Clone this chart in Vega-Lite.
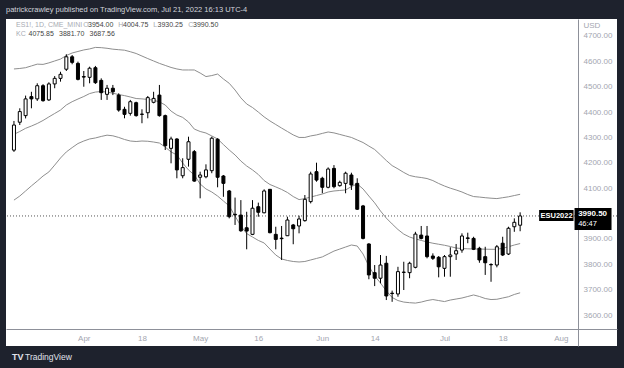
{
  "$schema": "https://vega.github.io/schema/vega-lite/v6.json",
  "width": 611,
  "height": 327,
  "autosize": {"type": "none"},
  "padding": {"left": 6, "top": 19, "right": 7, "bottom": 22},
  "background": "#1e222d",
  "config": {"view": {"fill": "white", "stroke": null}, "font": "Liberation Sans", "axis": {"labelOverlap": false, "labelFlush": false, "labelBound": false}},
  "title": {"text": "patrickcrawley published on TradingView.com, Jul 21, 2022 16:13 UTC-4", "anchor": "start", "frame": "group", "offset": 6, "fontSize": 7.5, "fontWeight": "normal", "color": "#d1d4dc", "font": "Liberation Sans"},
  "data": {"values": [
    {"i":-12,"o":4250,"h":4365,"l":4243,"c":4349,"u":4570,"m":4312.5,"lo":4053},
    {"i":-11,"o":4360,"h":4415,"l":4349,"c":4402,"u":4572,"m":4323.5,"lo":4069},
    {"i":-10,"o":4386,"h":4465,"l":4375,"c":4452,"u":4575,"m":4336,"lo":4089},
    {"i":-9,"o":4461,"h":4480,"l":4415,"c":4452,"u":4582,"m":4345,"lo":4109},
    {"i":-8,"o":4452,"h":4513.5,"l":4444,"c":4504,"u":4589,"m":4355,"lo":4128},
    {"i":-7,"o":4504,"h":4510,"l":4441,"c":4445,"u":4588,"m":4367,"lo":4148},
    {"i":-6,"o":4448,"h":4517.5,"l":4444,"c":4511,"u":4594,"m":4381,"lo":4164},
    {"i":-5,"o":4511,"h":4542,"l":4494,"c":4533,"u":4601.5,"m":4394.5,"lo":4191},
    {"i":-4,"o":4533,"h":4559,"l":4520,"c":4549,"u":4609,"m":4408,"lo":4219},
    {"i":-3,"o":4569,"h":4628,"l":4562,"c":4618,"u":4623,"m":4428,"lo":4243},
    {"i":-2,"o":4618,"h":4625,"l":4588.5,"c":4596,"u":4633,"m":4441,"lo":4260},
    {"i":-1,"o":4592,"h":4599,"l":4525,"c":4529,"u":4639,"m":4451.5,"lo":4276},
    {"i":0,"o":4540,"h":4562,"l":4500,"c":4538,"u":4645,"m":4461.5,"lo":4286},
    {"i":1,"o":4537,"h":4579,"l":4513.5,"c":4573,"u":4649,"m":4473,"lo":4294},
    {"i":2,"o":4575,"h":4582,"l":4511,"c":4516,"u":4655,"m":4479,"lo":4298},
    {"i":3,"o":4525,"h":4533,"l":4448,"c":4476.5,"u":4654,"m":4481,"lo":4304},
    {"i":4,"o":4470,"h":4507,"l":4448,"c":4494,"u":4651.5,"m":4479,"lo":4309},
    {"i":5,"o":4494,"h":4507,"l":4467,"c":4480,"u":4648,"m":4474.5,"lo":4306.5},
    {"i":6,"o":4467,"h":4474,"l":4401.5,"c":4408,"u":4646,"m":4469,"lo":4300},
    {"i":7,"o":4411,"h":4421,"l":4375.5,"c":4391,"u":4644,"m":4465,"lo":4292},
    {"i":8,"o":4395,"h":4448,"l":4386,"c":4441,"u":4638,"m":4459.5,"lo":4286},
    {"i":9,"o":4437,"h":4441,"l":4382,"c":4386,"u":4631,"m":4453.5,"lo":4284},
    {"i":10,"o":4392,"h":4411,"l":4356,"c":4391,"u":4621,"m":4452,"lo":4286},
    {"i":11,"o":4397.5,"h":4463.5,"l":4375.5,"c":4457,"u":4611,"m":4450,"lo":4285},
    {"i":12,"o":4438.5,"h":4480,"l":4434.5,"c":4454,"u":4601.5,"m":4447,"lo":4282},
    {"i":13,"o":4467,"h":4507,"l":4382,"c":4386,"u":4592,"m":4440,"lo":4278},
    {"i":14,"o":4386,"h":4390,"l":4250.5,"c":4267.5,"u":4584,"m":4428,"lo":4262},
    {"i":15,"o":4257,"h":4303,"l":4198,"c":4294,"u":4576,"m":4404,"lo":4243},
    {"i":16,"o":4294,"h":4297,"l":4139,"c":4172,"u":4570,"m":4388.5,"lo":4231},
    {"i":17,"o":4149,"h":4218,"l":4139,"c":4181,"u":4566,"m":4379,"lo":4199},
    {"i":18,"o":4214,"h":4303,"l":4185,"c":4283,"u":4566,"m":4361,"lo":4172},
    {"i":19,"o":4244,"h":4250.5,"l":4125.5,"c":4128,"u":4566,"m":4333,"lo":4152},
    {"i":20,"o":4143,"h":4165,"l":4060,"c":4152,"u":4554,"m":4323.5,"lo":4116.5},
    {"i":21,"o":4145,"h":4194,"l":4139,"c":4172,"u":4540,"m":4317.5,"lo":4097},
    {"i":22,"o":4169,"h":4303,"l":4159,"c":4297,"u":4544,"m":4306,"lo":4085},
    {"i":23,"o":4293,"h":4297,"l":4103.5,"c":4143,"u":4550,"m":4294,"lo":4069},
    {"i":24,"o":4148,"h":4152,"l":4066,"c":4119,"u":4530.5,"m":4272,"lo":4049.5},
    {"i":25,"o":4089,"h":4093,"l":3981,"c":3987.5,"u":4513.5,"m":4250.5,"lo":4030},
    {"i":26,"o":3997,"h":4063,"l":3955,"c":3995,"u":4487,"m":4231,"lo":3990},
    {"i":27,"o":3994,"h":4053,"l":3928,"c":3932,"u":4456,"m":4207,"lo":3951},
    {"i":28,"o":3944,"h":4007,"l":3859,"c":3931,"u":4432,"m":4187.5,"lo":3921},
    {"i":29,"o":3918,"h":4053,"l":3915,"c":4021,"u":4418,"m":4172,"lo":3907.5},
    {"i":30,"o":4027,"h":4043,"l":3987.5,"c":4005,"u":4400,"m":4154,"lo":3894},
    {"i":31,"o":4003,"h":4095.5,"l":4001,"c":4089,"u":4381,"m":4130,"lo":3884},
    {"i":32,"o":4095.5,"h":4096,"l":3922,"c":3924.5,"u":4365,"m":4114.5,"lo":3860},
    {"i":33,"o":3918,"h":3948,"l":3859,"c":3898,"u":4351,"m":4105,"lo":3836.5},
    {"i":34,"o":3903,"h":3951,"l":3817,"c":3901,"u":4337,"m":4095,"lo":3821},
    {"i":35,"o":3912.5,"h":3987.5,"l":3911.5,"c":3974.5,"u":4323.5,"m":4083,"lo":3815},
    {"i":36,"o":3955,"h":3959,"l":3879,"c":3940,"u":4310,"m":4067,"lo":3811},
    {"i":37,"o":3951,"h":3991.5,"l":3922,"c":3978.5,"u":4300,"m":4055,"lo":3809},
    {"i":38,"o":3972,"h":4073,"l":3968,"c":4056,"u":4300,"m":4059,"lo":3811},
    {"i":39,"o":4047,"h":4165,"l":4040,"c":4156,"u":4306,"m":4065,"lo":3817},
    {"i":40,"o":4165,"h":4200.5,"l":4125.5,"c":4132,"u":4310,"m":4071,"lo":3823},
    {"i":41,"o":4139,"h":4145,"l":4080,"c":4103.5,"u":4316,"m":4077,"lo":3829},
    {"i":42,"o":4103.5,"h":4182,"l":4099.5,"c":4175.5,"u":4321.5,"m":4085,"lo":3840.5},
    {"i":43,"o":4178,"h":4191,"l":4099.5,"c":4106,"u":4318,"m":4089,"lo":3852},
    {"i":44,"o":4110,"h":4129.5,"l":4106,"c":4123,"u":4312,"m":4091,"lo":3860},
    {"i":45,"o":4119,"h":4165,"l":4080,"c":4159,"u":4306,"m":4093,"lo":3868},
    {"i":46,"o":4152,"h":4161,"l":4093,"c":4112.5,"u":4300,"m":4106.5,"lo":3876},
    {"i":47,"o":4119,"h":4139,"l":4014,"c":4017,"u":4290,"m":4116.5,"lo":3872},
    {"i":48,"o":4030,"h":4034,"l":3898,"c":3902,"u":4280,"m":4097,"lo":3840.5},
    {"i":49,"o":3880,"h":3883,"l":3741,"c":3758,"u":4266,"m":4069,"lo":3793},
    {"i":50,"o":3767,"h":3797,"l":3714,"c":3745,"u":4252.5,"m":4042,"lo":3754},
    {"i":51,"o":3745,"h":3836.5,"l":3725,"c":3797,"u":4231,"m":4010,"lo":3726},
    {"i":52,"o":3804,"h":3833,"l":3659,"c":3675,"u":4209,"m":3982,"lo":3695},
    {"i":53,"o":3686,"h":3696,"l":3652,"c":3684.5,"u":4189,"m":3959,"lo":3669},
    {"i":54,"o":3683,"h":3790,"l":3672,"c":3771,"u":4176,"m":3937,"lo":3657},
    {"i":55,"o":3769,"h":3810,"l":3698.5,"c":3768,"u":4162,"m":3919,"lo":3651},
    {"i":56,"o":3767,"h":3810,"l":3745,"c":3804,"u":4150,"m":3907.5,"lo":3648.5},
    {"i":57,"o":3788,"h":3928,"l":3784,"c":3919,"u":4145,"m":3900,"lo":3647},
    {"i":58,"o":3915,"h":3951,"l":3898,"c":3902,"u":4142,"m":3894,"lo":3651},
    {"i":59,"o":3911.5,"h":3951,"l":3823.5,"c":3830,"u":4138,"m":3888,"lo":3657},
    {"i":60,"o":3832.5,"h":3843,"l":3817,"c":3823.5,"u":4130,"m":3883,"lo":3661},
    {"i":61,"o":3827.5,"h":3832.5,"l":3748.5,"c":3790,"u":4118.5,"m":3879,"lo":3657},
    {"i":62,"o":3784,"h":3836.5,"l":3751,"c":3830,"u":4108.5,"m":3875,"lo":3653},
    {"i":63,"o":3830,"h":3867,"l":3751,"c":3836.5,"u":4100,"m":3870,"lo":3659},
    {"i":64,"o":3840.5,"h":3880,"l":3817,"c":3853.5,"u":4093,"m":3864,"lo":3663},
    {"i":65,"o":3856,"h":3922,"l":3845.5,"c":3911.5,"u":4085,"m":3862,"lo":3667},
    {"i":66,"o":3904,"h":3924.5,"l":3883,"c":3902,"u":4075,"m":3861,"lo":3673},
    {"i":67,"o":3902,"h":3908.5,"l":3856,"c":3859,"u":4067,"m":3860,"lo":3679},
    {"i":68,"o":3863,"h":3869,"l":3806,"c":3817,"u":4065,"m":3860,"lo":3673},
    {"i":69,"o":3830,"h":3869,"l":3758,"c":3806,"u":4062.5,"m":3859.5,"lo":3665},
    {"i":70,"o":3799,"h":3804,"l":3731,"c":3798,"u":4060.5,"m":3859,"lo":3661},
    {"i":71,"o":3797,"h":3876,"l":3788,"c":3869,"u":4059,"m":3859,"lo":3662},
    {"i":72,"o":3883,"h":3908.5,"l":3832.5,"c":3836.5,"u":4062.5,"m":3863,"lo":3667},
    {"i":73,"o":3840.5,"h":3948,"l":3836.5,"c":3942,"u":4066,"m":3869,"lo":3672},
    {"i":74,"o":3948,"h":3981,"l":3928,"c":3965.5,"u":4071,"m":3876,"lo":3681},
    {"i":75,"o":3954,"h":4004.75,"l":3930.25,"c":3990.5,"u":4075.85,"m":3881.7,"lo":3687.56}
  ]},
  "layer": [
    {
      "mark": {"type": "line", "color": "#8e8e8e", "strokeWidth": 1},
      "encoding": {
        "x": {"field": "i", "type": "quantitative", "scale": {"domain": [-12.51, 90.79], "nice": false, "zero": false},
          "axis": {"values": [0, 10, 20, 30, 41, 50, 62, 72, 82], "tickCount": 30, "labelExpr": "datum.value==0?'Apr':datum.value==10?'18':datum.value==20?'May':datum.value==30?'16':datum.value==41?'Jun':datum.value==50?'14':datum.value==62?'Jul':datum.value==72?'18':'Aug'", "offset": -17, "ticks": false, "grid": false, "domainColor": "#8d9099", "labelColor": "#a3a6b0", "labelFontSize": 8, "labelPadding": 5, "title": null, "labelOverlap": false}},
        "y": {"field": "u", "type": "quantitative", "scale": {"domain": [3477.8, 4767], "nice": false, "zero": false},
          "axis": {"orient": "right", "offset": -39, "values": [3600, 3700, 3800, 3900, 4100, 4200, 4300, 4400, 4500, 4600, 4700], "tickCount": 30, "format": ".2f", "ticks": false, "grid": false, "domainColor": "#8d9099", "labelColor": "#a3a6b0", "labelFontSize": 8, "labelPadding": 5, "labelOverlap": false, "title": "USD", "titleAngle": 0, "titleAlign": "left", "titleBaseline": "middle", "titleX": 5, "titleY": 6, "titleFontSize": 8, "titleFontWeight": "normal", "titleColor": "#a3a6b0"}}
      }
    },
    {
      "mark": {"type": "line", "color": "#8e8e8e", "strokeWidth": 1},
      "encoding": {
        "x": {"field": "i", "type": "quantitative"},
        "y": {"field": "m", "type": "quantitative"}
      }
    },
    {
      "mark": {"type": "line", "color": "#8e8e8e", "strokeWidth": 1},
      "encoding": {
        "x": {"field": "i", "type": "quantitative"},
        "y": {"field": "lo", "type": "quantitative"}
      }
    },
    {
      "transform": [{"filter": "datum.i == 75"}],
      "mark": {"type": "rule", "color": "#555555", "strokeWidth": 1, "strokeDash": [1, 2]},
      "encoding": {"y": {"field": "c", "type": "quantitative"}}
    },
    {
      "mark": {"type": "rule", "color": "#000000", "strokeWidth": 1},
      "encoding": {
        "x": {"field": "i", "type": "quantitative"},
        "y": {"field": "l", "type": "quantitative"},
        "y2": {"field": "h"}
      }
    },
    {
      "mark": {"type": "bar", "width": 3, "stroke": "#000000", "strokeWidth": 1},
      "encoding": {
        "x": {"field": "i", "type": "quantitative"},
        "y": {"field": "o", "type": "quantitative"},
        "y2": {"field": "c"},
        "fill": {"condition": {"test": "datum.c >= datum.o", "value": "#ffffff"}, "value": "#000000"}
      }
    },
    {
      "transform": [{"filter": "datum.i == 75"}],
      "mark": {"type": "rect", "color": "#000000", "xOffset": 19, "x2Offset": 53.4, "yOffset": -6, "y2Offset": 5},
      "encoding": {
        "x": {"field": "i", "type": "quantitative"}, "x2": {"field": "i"},
        "y": {"field": "c", "type": "quantitative"}, "y2": {"field": "c"}
      }
    },
    {
      "transform": [{"filter": "datum.i == 75"}],
      "mark": {"type": "text", "color": "#ffffff", "dx": 36.4, "dy": 0, "fontSize": 7.5, "fontWeight": "bold", "align": "center", "baseline": "middle"},
      "encoding": {
        "x": {"field": "i", "type": "quantitative"},
        "y": {"field": "c", "type": "quantitative"},
        "text": {"value": "ESU2022"}
      }
    },
    {
      "transform": [{"filter": "datum.i == 75"}],
      "mark": {"type": "rect", "color": "#000000", "xOffset": 54.4, "x2Offset": 91.4, "yOffset": -8, "y2Offset": 14},
      "encoding": {
        "x": {"field": "i", "type": "quantitative"}, "x2": {"field": "i"},
        "y": {"field": "c", "type": "quantitative"}, "y2": {"field": "c"}
      }
    },
    {
      "transform": [{"filter": "datum.i == 75"}],
      "mark": {"type": "text", "color": "#ffffff", "dx": 58, "dy": -2, "fontSize": 8, "fontWeight": "bold", "align": "left", "baseline": "middle"},
      "encoding": {
        "x": {"field": "i", "type": "quantitative"},
        "y": {"field": "c", "type": "quantitative"},
        "text": {"field": "c", "type": "quantitative", "format": ".2f"}
      }
    },
    {
      "transform": [{"filter": "datum.i == 75"}],
      "mark": {"type": "text", "color": "#ffffff", "dx": 58, "dy": 8, "fontSize": 7.5, "align": "left", "baseline": "middle"},
      "encoding": {
        "x": {"field": "i", "type": "quantitative"},
        "y": {"field": "c", "type": "quantitative"},
        "text": {"value": "46:47"}
      }
    },
    {
      "transform": [{"filter": "datum.i == 75"}],
      "mark": {"type": "text", "color": "#a8abb3", "dx": 5, "dy": 6, "fontSize": 7, "align": "left", "baseline": "middle"},
      "encoding": {"x": {"datum": -12.51, "type": "quantitative"}, "y": {"datum": 4767, "type": "quantitative"}, "text": {"value": "ES1!, 1D, CME_MINI"}}
    },
    {
      "transform": [{"filter": "datum.i == 75"}],
      "mark": {"type": "text", "color": "#a8abb3", "dx": 72.3, "dy": 6, "fontSize": 7, "align": "left", "baseline": "middle"},
      "encoding": {"x": {"datum": -12.51, "type": "quantitative"}, "y": {"datum": 4767, "type": "quantitative"}, "text": {"value": "O"}}
    },
    {
      "transform": [{"filter": "datum.i == 75"}],
      "mark": {"type": "text", "color": "#a8abb3", "dx": 107.3, "dy": 6, "fontSize": 7, "align": "left", "baseline": "middle"},
      "encoding": {"x": {"datum": -12.51, "type": "quantitative"}, "y": {"datum": 4767, "type": "quantitative"}, "text": {"value": "H"}}
    },
    {
      "transform": [{"filter": "datum.i == 75"}],
      "mark": {"type": "text", "color": "#a8abb3", "dx": 142.3, "dy": 6, "fontSize": 7, "align": "left", "baseline": "middle"},
      "encoding": {"x": {"datum": -12.51, "type": "quantitative"}, "y": {"datum": 4767, "type": "quantitative"}, "text": {"value": "L"}}
    },
    {
      "transform": [{"filter": "datum.i == 75"}],
      "mark": {"type": "text", "color": "#a8abb3", "dx": 177.3, "dy": 6, "fontSize": 7, "align": "left", "baseline": "middle"},
      "encoding": {"x": {"datum": -12.51, "type": "quantitative"}, "y": {"datum": 4767, "type": "quantitative"}, "text": {"value": "C"}}
    },
    {
      "transform": [{"filter": "datum.i == 75"}],
      "mark": {"type": "text", "color": "#a8abb3", "dx": 5, "dy": 15.3, "fontSize": 7, "align": "left", "baseline": "middle"},
      "encoding": {"x": {"datum": -12.51, "type": "quantitative"}, "y": {"datum": 4767, "type": "quantitative"}, "text": {"value": "KC"}}
    },
    {
      "transform": [{"filter": "datum.i == 75"}],
      "mark": {"type": "text", "color": "#444444", "dx": 77, "dy": 6, "fontSize": 7, "align": "left", "baseline": "middle"},
      "encoding": {"x": {"datum": -12.51, "type": "quantitative"}, "y": {"datum": 4767, "type": "quantitative"}, "text": {"field": "o", "type": "quantitative", "format": ".2f"}}
    },
    {
      "transform": [{"filter": "datum.i == 75"}],
      "mark": {"type": "text", "color": "#444444", "dx": 112, "dy": 6, "fontSize": 7, "align": "left", "baseline": "middle"},
      "encoding": {"x": {"datum": -12.51, "type": "quantitative"}, "y": {"datum": 4767, "type": "quantitative"}, "text": {"field": "h", "type": "quantitative", "format": ".2f"}}
    },
    {
      "transform": [{"filter": "datum.i == 75"}],
      "mark": {"type": "text", "color": "#444444", "dx": 146.5, "dy": 6, "fontSize": 7, "align": "left", "baseline": "middle"},
      "encoding": {"x": {"datum": -12.51, "type": "quantitative"}, "y": {"datum": 4767, "type": "quantitative"}, "text": {"field": "l", "type": "quantitative", "format": ".2f"}}
    },
    {
      "transform": [{"filter": "datum.i == 75"}],
      "mark": {"type": "text", "color": "#444444", "dx": 182, "dy": 6, "fontSize": 7, "align": "left", "baseline": "middle"},
      "encoding": {"x": {"datum": -12.51, "type": "quantitative"}, "y": {"datum": 4767, "type": "quantitative"}, "text": {"field": "c", "type": "quantitative", "format": ".2f"}}
    },
    {
      "transform": [{"filter": "datum.i == 75"}],
      "mark": {"type": "text", "color": "#444444", "dx": 17.5, "dy": 15.3, "fontSize": 7, "align": "left", "baseline": "middle"},
      "encoding": {"x": {"datum": -12.51, "type": "quantitative"}, "y": {"datum": 4767, "type": "quantitative"}, "text": {"field": "u", "type": "quantitative", "format": ".2f"}}
    },
    {
      "transform": [{"filter": "datum.i == 75"}],
      "mark": {"type": "text", "color": "#444444", "dx": 48, "dy": 15.3, "fontSize": 7, "align": "left", "baseline": "middle"},
      "encoding": {"x": {"datum": -12.51, "type": "quantitative"}, "y": {"datum": 4767, "type": "quantitative"}, "text": {"field": "m", "type": "quantitative", "format": ".2f"}}
    },
    {
      "transform": [{"filter": "datum.i == 75"}],
      "mark": {"type": "text", "color": "#444444", "dx": 78.5, "dy": 15.3, "fontSize": 7, "align": "left", "baseline": "middle"},
      "encoding": {"x": {"datum": -12.51, "type": "quantitative"}, "y": {"datum": 4767, "type": "quantitative"}, "text": {"field": "lo", "type": "quantitative", "format": ".2f"}}
    },
    {
      "transform": [{"filter": "datum.i == 75"}],
      "mark": {"type": "text", "color": "#e0e3eb", "dx": 1, "dy": 11, "fontSize": 9, "fontWeight": "bold", "align": "left", "baseline": "middle"},
      "encoding": {"x": {"datum": -12.51, "type": "quantitative"}, "y": {"datum": 3477.8, "type": "quantitative"}, "text": {"value": "TV"}}
    },
    {
      "transform": [{"filter": "datum.i == 75"}],
      "mark": {"type": "text", "color": "#e0e3eb", "dx": 14, "dy": 11, "fontSize": 8.5, "align": "left", "baseline": "middle"},
      "encoding": {"x": {"datum": -12.51, "type": "quantitative"}, "y": {"datum": 3477.8, "type": "quantitative"}, "text": {"value": "TradingView"}}
    }
  ]
}
